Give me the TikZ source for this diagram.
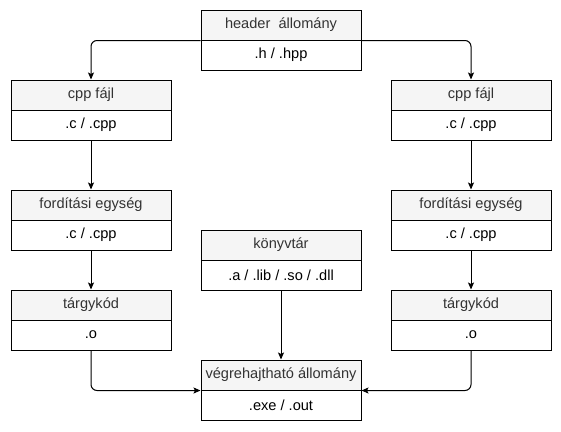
\documentclass[tikz,border=0pt]{standalone}
\usepackage{fontspec}
\setmainfont{Liberation Sans}
\usetikzlibrary{arrows.meta}
\definecolor{headfill}{HTML}{F5F5F5}
\definecolor{headtext}{HTML}{333333}
\begin{document}
\begin{tikzpicture}[x=1pt,y=-1pt,
  headbox/.style={draw=black, line width=1pt, fill=headfill, text=headtext, minimum width=160pt, minimum height=30pt, inner sep=0pt, font=\fontsize{14.6}{17}\selectfont},
  bodybox/.style={draw=black, line width=1pt, fill=white, text=black, minimum width=160pt, minimum height=30pt, inner sep=0pt, font=\fontsize{14.6}{17}\selectfont},
  conn/.style={line width=1pt, rounded corners=6pt, -{Stealth[length=7pt,width=6pt,inset=1.5pt]}}]
\useasboundingbox (0,0) rectangle (561,431);
% header
\node[headbox] (hh) at (281,25) {header\ \ állomány};
\node[bodybox] (hb) at (281,55) {.h / .hpp};
% left column
\node[headbox] (lch) at (91,95) {cpp fájl};
\node[bodybox] (lcb) at (91,125) {.c / .cpp};
\node[headbox] (lfh) at (91,205) {fordítási egység};
\node[bodybox] (lfb) at (91,235) {.c / .cpp};
\node[headbox] (lth) at (91,305) {tárgykód};
\node[bodybox] (ltb) at (91,335) {.o};
% right column
\node[headbox] (rch) at (471,95) {cpp fájl};
\node[bodybox] (rcb) at (471,125) {.c / .cpp};
\node[headbox] (rfh) at (471,205) {fordítási egység};
\node[bodybox] (rfb) at (471,235) {.c / .cpp};
\node[headbox] (rth) at (471,305) {tárgykód};
\node[bodybox] (rtb) at (471,335) {.o};
% library
\node[headbox] (kh) at (281,245) {könyvtár};
\node[bodybox] (kb) at (281,275) {.a / .lib / .so / .dll};
% executable
\node[headbox] (eh) at (281,375) {végrehajtható állomány};
\node[bodybox] (eb) at (281,405) {.exe / .out};
% connectors
\draw[conn] (hh.south west) -| (lch.north);
\draw[conn] (hh.south east) -| (rch.north);
\draw[conn] (lcb.south) -- (lfh.north);
\draw[conn] (rcb.south) -- (rfh.north);
\draw[conn] (lfb.south) -- (lth.north);
\draw[conn] (rfb.south) -- (rth.north);
\draw[conn] (ltb.south) |- (eh.south west);
\draw[conn] (rtb.south) |- (eh.south east);
\draw[conn] (kb.south) -- (eh.north);
\end{tikzpicture}
\end{document}
